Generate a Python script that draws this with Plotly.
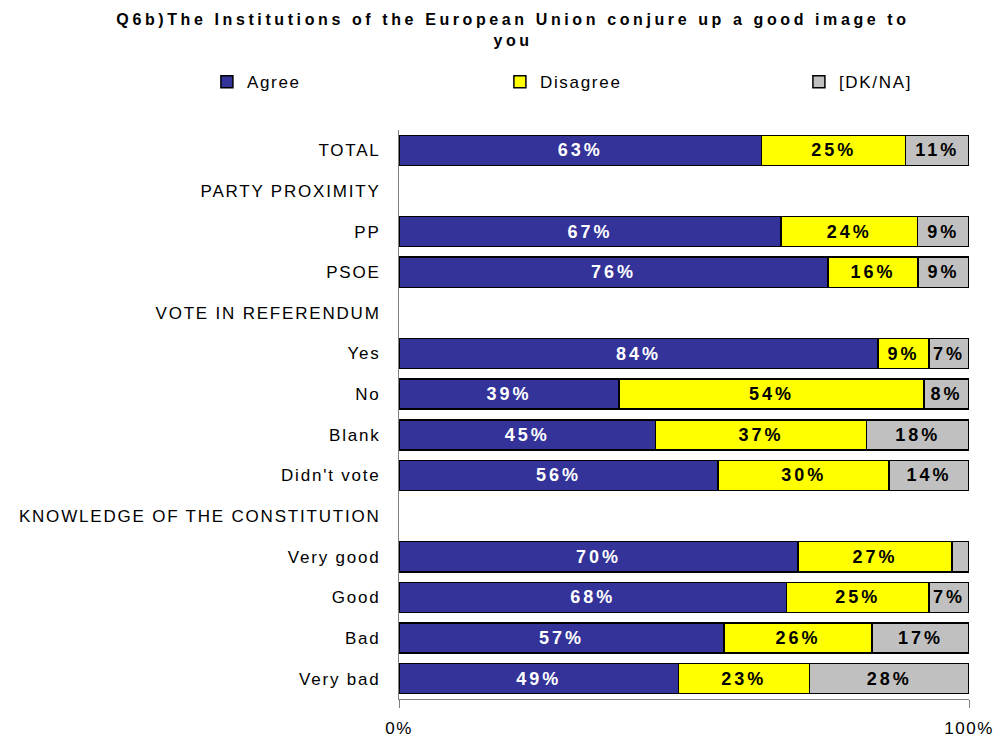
import plotly.graph_objects as go

# Survey question and answer groups
title_text = "Q6b)The Institutions of the European Union conjure up a good image to<br>you"

categories = [
    "TOTAL",
    "PARTY PROXIMITY",
    "PP",
    "PSOE",
    "VOTE IN REFERENDUM",
    "Yes",
    "No",
    "Blank",
    "Didn't vote",
    "KNOWLEDGE OF THE CONSTITUTION",
    "Very good",
    "Good",
    "Bad",
    "Very bad",
]

# Shares in percent (None = section heading row, no bar)
agree = [63, None, 67, 76, None, 84, 39, 45, 56, None, 70, 68, 57, 49]
disagree = [25, None, 24, 16, None, 9, 54, 37, 30, None, 27, 25, 26, 23]
dk_na = [11, None, 9, 9, None, 7, 8, 18, 14, None, 3, 7, 17, 28]

series_names = ["Agree", "Disagree", "[DK/NA]"]
series_colors = ["#333399", "#FFFF00", "#C0C0C0"]
label_colors = ["white", "black", "black"]
legend_widths = [248, 254, 90]

x_tick_vals = [0, 100]
x_tick_text = ["0%", "100%"]

FONT = "Liberation Sans, Arial, sans-serif"


def bar_labels(values):
    # segments too narrow to hold a label stay unlabelled
    return ["" if v is None or v < 5 else f"{v}%" for v in values]


fig = go.Figure()
for name, vals, color, tcolor, lw in zip(series_names, [agree, disagree, dk_na],
                                         series_colors, label_colors, legend_widths):
    fig.add_trace(go.Bar(
        name=name,
        y=categories,
        x=vals,
        orientation="h",
        marker=dict(color=color, line=dict(color="black", width=1.5)),
        text=bar_labels(vals),
        textposition="inside",
        insidetextanchor="middle",
        textangle=0,
        constraintext="none",
        textfont=dict(family=FONT, size=18, color=tcolor, weight="bold"),
        legendwidth=lw,
        hoverinfo="skip",
    ))

fig.update_layout(
    template="none",
    width=995,
    height=738,
    barmode="stack",
    barnorm="percent",
    bargap=0.26,
    paper_bgcolor="white",
    plot_bgcolor="white",
    margin=dict(l=399, r=26, t=130, b=39, pad=0, autoexpand=False),
    font=dict(family=FONT, size=17, color="black"),
    title=dict(
        text=title_text,
        font=dict(family=FONT, size=16, color="black", weight="bold"),
        x=0.5156,
        xanchor="center",
        xref="container",
        y=0.9665,
        yanchor="top",
        yref="container",
    ),
    showlegend=True,
    legend=dict(
        orientation="h",
        xref="paper",
        yref="paper",
        x=-0.337,
        xanchor="left",
        y=1.084,
        yanchor="middle",
        font=dict(family=FONT, size=17, color="black"),
        itemwidth=30,
        entrywidthmode="pixels",
        traceorder="normal",
        bgcolor="rgba(0,0,0,0)",
        borderwidth=0,
    ),
    xaxis=dict(
        range=[0, 100],
        tickvals=x_tick_vals,
        ticktext=x_tick_text,
        ticks="outside",
        ticklen=8,
        tickwidth=1,
        tickcolor="#808080",
        showline=True,
        linecolor="#808080",
        linewidth=1,
        showgrid=False,
        zeroline=False,
        automargin=False,
        ticklabelstandoff=6,
        tickfont=dict(family=FONT, size=17, color="black"),
        fixedrange=True,
    ),
    yaxis=dict(
        type="category",
        categoryorder="array",
        categoryarray=categories,
        autorange="reversed",
        showline=True,
        linecolor="#808080",
        linewidth=1,
        ticks="",
        showgrid=False,
        zeroline=False,
        automargin=False,
        ticklabelstandoff=14,
        tickfont=dict(family=FONT, size=17, color="black"),
        fixedrange=True,
    ),
)

# widen the character spacing of every text group
spacing_js = """
var gd = document.getElementById('{plot_id}');
function spread(sel, v) {
  gd.querySelectorAll(sel).forEach(function (t) { t.style.letterSpacing = v; });
}
spread('.gtitle', '3.6px');
spread('.ytick text', '1.8px');
spread('.xtick text', '1.5px');
spread('.legendtext', '1.7px');
spread('.bartext', '3px');
"""

fig.write_html("out.html", post_script=spacing_js)
